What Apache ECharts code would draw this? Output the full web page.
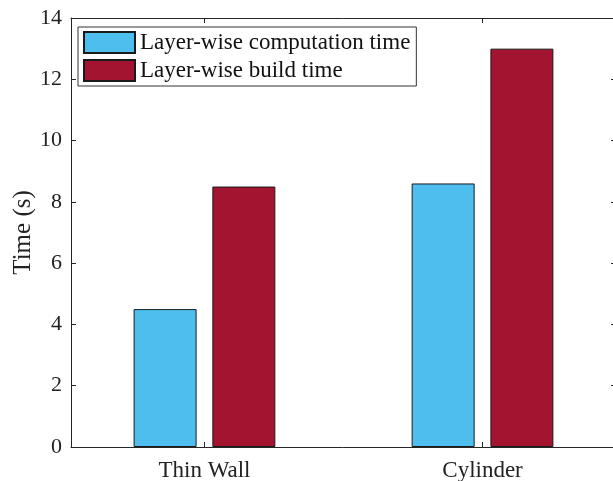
<!DOCTYPE html>
<html>
<head>
<meta charset="utf-8">
<script src="https://cdn.jsdelivr.net/npm/echarts@6/dist/echarts.min.js"></script>
<style>html,body{margin:0;padding:0;background:#fff;}#c{width:613px;height:481px;}</style>
</head>
<body>
<div id="c"></div>
<script>
var categories = ['Thin Wall', 'Cylinder'];
var seriesNames = ['Layer-wise computation time', 'Layer-wise build time'];
var computationTime = [4.5, 8.6];
var buildTime = [8.5, 13];
var yTicks = [0, 2, 4, 6, 8, 10, 12, 14];

var FONT = 'Liberation Serif';
var AX = '#262626';
var positions = categories.map(function (c, i) { return i + 1; });
function pairs(vals) { return vals.map(function (v, i) { return [positions[i], v]; }); }

var chart = echarts.init(document.getElementById('c'), null, {renderer: 'canvas'});
chart.setOption({
  animation: false,
  backgroundColor: '#fff',
  grid: {left: 71, top: 18, right: -3, bottom: 34, containLabel: false, outerBoundsMode: 'none'},
  legend: {
    orient: 'vertical', left: 78, top: 27,
    icon: 'rect',
    itemWidth: 51, itemHeight: 21, itemGap: 5,
    padding: [4, 6, 4, 5],
    borderColor: '#333', borderWidth: 1,
    backgroundColor: '#fff',
    textStyle: {fontFamily: FONT, fontSize: 23, color: '#111'},
    data: seriesNames
  },
  xAxis: [{
    type: 'value', min: 0.52, max: 2.48,
    splitLine: {show: false},
    axisLine: {show: true, onZero: false, lineStyle: {color: AX, width: 1}},
    axisTick: {show: true, inside: true, length: 5, customValues: positions, lineStyle: {color: AX}},
    axisLabel: {customValues: positions, margin: 12, fontFamily: FONT, fontSize: 23, color: '#222',
      formatter: function (v) { return categories[Math.round(v) - 1] || ''; }}
  }, {
    type: 'value', min: 0.52, max: 2.48, position: 'top',
    splitLine: {show: false},
    axisLine: {show: true, onZero: false, lineStyle: {color: AX, width: 1}},
    axisTick: {show: true, inside: true, length: 5, customValues: positions, lineStyle: {color: AX}},
    axisLabel: {show: false}
  }],
  yAxis: [{
    type: 'value', min: 0, max: 14, interval: 2,
    name: 'Time (s)', nameLocation: 'middle', nameGap: 35, nameRotate: 90,
    nameMoveOverlap: false,
    nameTextStyle: {fontFamily: FONT, fontSize: 25, color: '#222'},
    splitLine: {show: false},
    axisLine: {show: true, lineStyle: {color: AX, width: 1}},
    axisTick: {show: true, inside: true, length: 5, lineStyle: {color: AX}},
    axisLabel: {margin: 9, fontFamily: FONT, fontSize: 22, color: '#222',
      formatter: function (v) { return yTicks.indexOf(v) >= 0 ? String(v) : ''; }}
  }, {
    type: 'value', min: 0, max: 14, interval: 2, position: 'right',
    splitLine: {show: false},
    axisLine: {show: true, lineStyle: {color: AX, width: 1}},
    axisTick: {show: true, inside: true, length: 5, lineStyle: {color: AX}},
    axisLabel: {show: false}
  }],
  series: [{
    name: seriesNames[0], type: 'bar', xAxisIndex: 0, yAxisIndex: 0,
    data: pairs(computationTime), barWidth: 63, barGap: '25%',
    itemStyle: {color: '#4DBEEE', borderColor: '#1a1a1a', borderWidth: 1}
  }, {
    name: seriesNames[1], type: 'bar', xAxisIndex: 0, yAxisIndex: 0,
    data: pairs(buildTime), barWidth: 63, barGap: '25%',
    itemStyle: {color: '#A2142F', borderColor: '#1a1a1a', borderWidth: 1}
  }]
});
</script>
</body>
</html>
